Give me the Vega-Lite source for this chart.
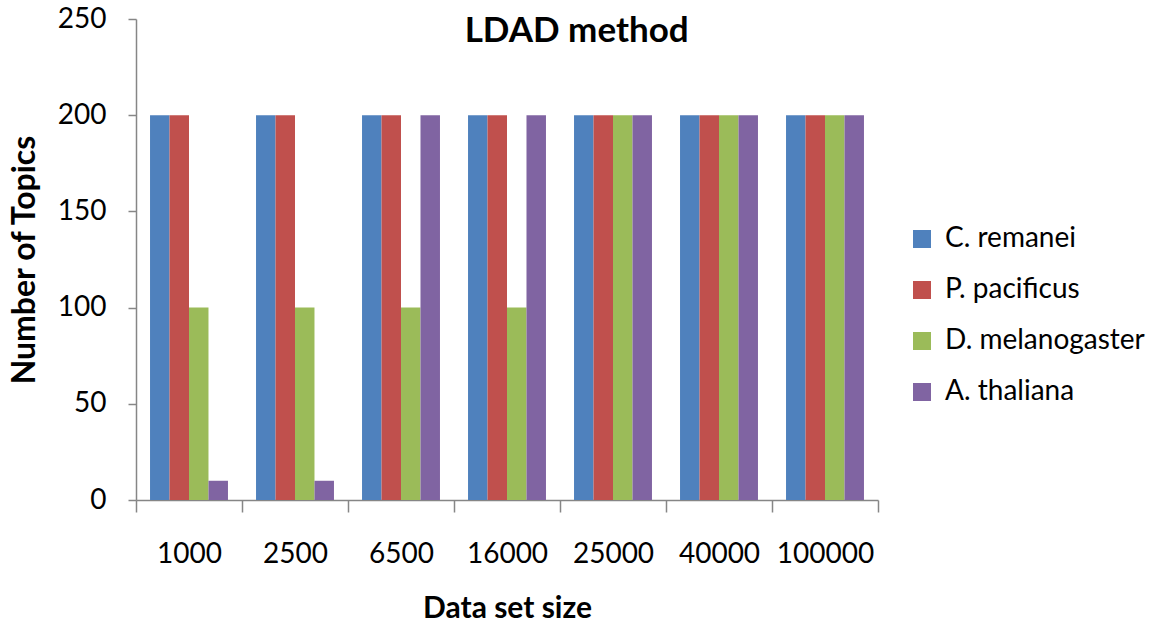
{
  "$schema": "https://vega.github.io/schema/vega-lite/v6.json",
  "autosize": "none",
  "width": 742,
  "height": 481,
  "padding": {"left": 136, "top": 19, "right": 290, "bottom": 124},
  "background": "white",
  "config": {
    "font": "Lato",
    "view": {"stroke": null},
    "axis": {"grid": false, "domainColor": "#868686", "tickColor": "#868686", "labelColor": "#000000", "titleColor": "#000000"}
  },
  "title": {"text": "LDAD method", "fontSize": 35, "fontWeight": "bold", "font": "Lato", "frame": "bounds", "anchor": "middle", "offset": -44, "color": "#000000"},
  "data": {
    "values": [
      {"size": "1000", "species": "C. remanei", "topics": 200},
      {"size": "1000", "species": "P. pacificus", "topics": 200},
      {"size": "1000", "species": "D. melanogaster", "topics": 100},
      {"size": "1000", "species": "A. thaliana", "topics": 10},
      {"size": "2500", "species": "C. remanei", "topics": 200},
      {"size": "2500", "species": "P. pacificus", "topics": 200},
      {"size": "2500", "species": "D. melanogaster", "topics": 100},
      {"size": "2500", "species": "A. thaliana", "topics": 10},
      {"size": "6500", "species": "C. remanei", "topics": 200},
      {"size": "6500", "species": "P. pacificus", "topics": 200},
      {"size": "6500", "species": "D. melanogaster", "topics": 100},
      {"size": "6500", "species": "A. thaliana", "topics": 200},
      {"size": "16000", "species": "C. remanei", "topics": 200},
      {"size": "16000", "species": "P. pacificus", "topics": 200},
      {"size": "16000", "species": "D. melanogaster", "topics": 100},
      {"size": "16000", "species": "A. thaliana", "topics": 200},
      {"size": "25000", "species": "C. remanei", "topics": 200},
      {"size": "25000", "species": "P. pacificus", "topics": 200},
      {"size": "25000", "species": "D. melanogaster", "topics": 200},
      {"size": "25000", "species": "A. thaliana", "topics": 200},
      {"size": "40000", "species": "C. remanei", "topics": 200},
      {"size": "40000", "species": "P. pacificus", "topics": 200},
      {"size": "40000", "species": "D. melanogaster", "topics": 200},
      {"size": "40000", "species": "A. thaliana", "topics": 200},
      {"size": "100000", "species": "C. remanei", "topics": 200},
      {"size": "100000", "species": "P. pacificus", "topics": 200},
      {"size": "100000", "species": "D. melanogaster", "topics": 200},
      {"size": "100000", "species": "A. thaliana", "topics": 200}
    ]
  },
  "mark": {"type": "bar"},
  "encoding": {
    "x": {
      "field": "size", "type": "nominal", "sort": null,
      "scale": {"paddingInner": 0, "paddingOuter": 0},
      "axis": {"title": "Data set size", "labelAngle": 0, "labelFontSize": 28, "titleFontSize": 30, "titleFontWeight": "bold", "tickSize": 12, "tickBand": "extent", "labelPadding": 28, "titlePadding": 25, "domainWidth": 1.5, "tickWidth": 1.5}
    },
    "xOffset": {"field": "species", "type": "nominal", "sort": ["C. remanei", "P. pacificus", "D. melanogaster", "A. thaliana"], "scale": {"paddingInner": 0, "paddingOuter": 0.72}},
    "y": {
      "field": "topics", "type": "quantitative",
      "scale": {"domain": [0, 250], "nice": false},
      "axis": {"title": "Number of Topics", "values": [0, 50, 100, 150, 200, 250], "labelFontSize": 28, "titleFontSize": 32, "titleFontWeight": "bold", "tickSize": 8, "labelPadding": 22, "titlePadding": 16, "domainWidth": 1.5, "tickWidth": 1.5}
    },
    "color": {
      "field": "species", "type": "nominal",
      "sort": ["C. remanei", "P. pacificus", "D. melanogaster", "A. thaliana"],
      "scale": {"domain": ["C. remanei", "P. pacificus", "D. melanogaster", "A. thaliana"], "range": ["#4F81BD", "#C0504D", "#9BBB59", "#8064A2"]},
      "legend": {"title": null, "orient": "none", "legendX": 772, "legendY": 206, "symbolType": "square", "symbolSize": 324, "symbolStrokeWidth": 0, "labelFontSize": 28, "labelLimit": 0, "labelColor": "#000000", "rowPadding": 23, "labelOffset": 9}
    }
  }
}
